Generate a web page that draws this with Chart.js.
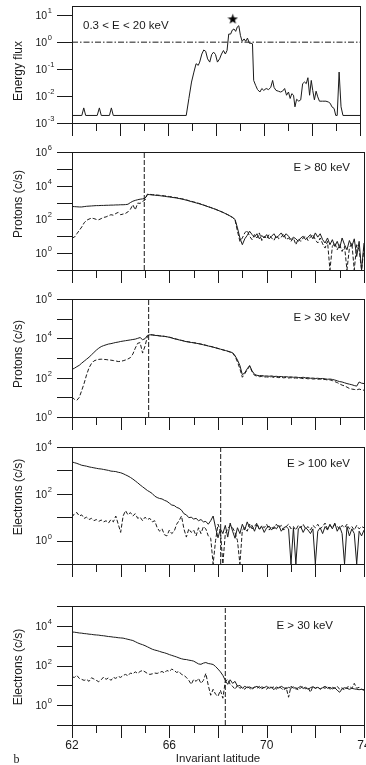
<!DOCTYPE html>
<html>
<head>
<meta charset="utf-8">
<script src="https://cdn.jsdelivr.net/npm/chart.js@4.4.1/dist/chart.umd.min.js"></script>
<style>
  html, body { margin: 0; padding: 0; background: #fff; }
  #wrap { position: relative; width: 366px; height: 765px; overflow: hidden; }
  #wrap canvas { position: absolute; left: 0; }
</style>
</head>
<body>
<div id="wrap">
  <canvas id="p1" width="366" height="139" style="top:0px"></canvas>
  <canvas id="p2" width="366" height="144" style="top:142px"></canvas>
  <canvas id="p3" width="366" height="144" style="top:289px"></canvas>
  <canvas id="p4" width="366" height="143" style="top:437px"></canvas>
  <canvas id="p5" width="366" height="169" style="top:596px"></canvas>
</div>
<script>

// ── panel 1: energy flux, 0.3 < E < 20 keV
const fluxLat = [62.00, 62.41, 62.49, 62.57, 63.05, 63.14, 63.22, 63.56, 63.64, 63.72,
  66.76, 66.87, 66.98, 67.08, 67.17, 67.26, 67.32, 67.41, 67.49, 67.57,
  67.65, 67.74, 67.82, 67.90, 67.98, 68.06, 68.15, 68.23, 68.31, 68.39,
  68.46, 68.53, 68.61, 68.68, 68.75, 68.82, 68.89, 68.95, 69.02, 69.09,
  69.17, 69.24, 69.31, 69.39, 69.46, 69.52, 69.57, 69.65, 69.73, 69.83,
  69.91, 69.99, 70.09, 70.19, 70.28, 70.36, 70.42, 70.50, 70.60, 70.69,
  70.77, 70.86, 70.94, 71.02, 71.09, 71.16, 71.23, 71.29, 71.36, 71.45,
  71.53, 71.61, 71.69, 71.76, 71.83, 71.90, 71.97, 72.03, 72.10, 72.17,
  72.24, 72.31, 72.44, 72.58, 72.68, 72.76, 72.83, 72.92, 72.99, 73.05,
  73.13, 73.21, 73.29, 74.00];
const fluxLog = [-2.72, -2.72, -2.44, -2.72, -2.72, -2.44, -2.72, -2.72, -2.44, -2.72,
  -2.72, -2.09, -1.48, -1.11, -0.80, -0.86, -0.74, -0.44, -0.29, -0.34,
  -0.62, -0.74, -0.46, -0.37, -0.46, -0.74, -0.62, -0.44, -0.31, -0.44,
  -0.31, 0.30, 0.30, 0.45, 0.49, 0.40, 0.57, 0.61, 0.24, 0.03,
  0.12, 0.03, 0.15, -0.04, -0.04, -0.06, -1.42, -1.60, -1.76, -1.85,
  -1.72, -1.79, -1.72, -1.76, -1.68, -1.42, -1.68, -1.79, -1.82, -1.85,
  -1.82, -1.72, -1.97, -1.85, -2.09, -1.91, -1.97, -2.40, -2.12, -2.19,
  -2.14, -1.54, -1.48, -1.54, -1.32, -1.97, -1.42, -1.79, -2.14, -1.82,
  -2.03, -2.19, -2.19, -2.19, -2.22, -2.27, -2.40, -2.46, -2.72, -2.72,
  -1.11, -2.40, -2.72, -2.72];
const starLat = [68.7];
const starLog = [0.87];
const refLevelLog = 0;

// ── panels 2-5 share one latitude grid
const lat = [62.0, 62.1, 62.2, 62.3, 62.4, 62.5, 62.6, 62.7, 62.8, 62.9,
  63.0, 63.1, 63.2, 63.3, 63.4, 63.5, 63.6, 63.7, 63.8, 63.9,
  64.0, 64.1, 64.2, 64.3, 64.4, 64.5, 64.6, 64.7, 64.8, 64.9,
  65.0, 65.1, 65.2, 65.3, 65.4, 65.5, 65.6, 65.7, 65.8, 65.9,
  66.0, 66.1, 66.2, 66.3, 66.4, 66.5, 66.6, 66.7, 66.8, 66.9,
  67.0, 67.1, 67.2, 67.3, 67.4, 67.5, 67.6, 67.7, 67.8, 67.9,
  68.0, 68.1, 68.2, 68.3, 68.4, 68.5, 68.6, 68.7, 68.8, 68.9,
  69.0, 69.1, 69.2, 69.3, 69.4, 69.5, 69.6, 69.7, 69.8, 69.9,
  70.0, 70.1, 70.2, 70.3, 70.4, 70.5, 70.6, 70.7, 70.8, 70.9,
  71.0, 71.1, 71.2, 71.3, 71.4, 71.5, 71.6, 71.7, 71.8, 71.9,
  72.0, 72.1, 72.2, 72.3, 72.4, 72.5, 72.6, 72.7, 72.8, 72.9,
  73.0, 73.1, 73.2, 73.3, 73.4, 73.5, 73.6, 73.7, 73.8, 73.9,
  74.0];

// protons E > 80 keV
const p80Solid = [2.77, 2.76, 2.75, 2.74, 2.74, 2.76, 2.78, 2.79, 2.80, 2.81,
  2.82, 2.82, 2.83, 2.83, 2.84, 2.84, 2.85, 2.85, 2.86, 2.86,
  2.87, 2.87, 2.88, 2.90, 3.00, 3.08, 3.13, 3.17, 3.20, 3.22,
  3.25, 3.48, 3.47, 3.45, 3.44, 3.42, 3.41, 3.39, 3.37, 3.35,
  3.33, 3.31, 3.29, 3.27, 3.24, 3.21, 3.18, 3.14, 3.10, 3.06,
  3.02, 2.98, 2.94, 2.90, 2.85, 2.80, 2.75, 2.70, 2.65, 2.60,
  2.54, 2.48, 2.42, 2.35, 2.28, 2.20, 2.12, 2.00, 1.50, 0.90,
  0.50, 0.85, 1.05, 1.30, 1.10, 0.95, 1.15, 0.85, 1.05, 0.90,
  1.10, 0.85, 1.00, 1.15, 0.90, 1.05, 1.20, 0.95, 1.15, 1.00,
  0.80, 0.95, 0.85, 0.70, 0.90, 1.00, 0.80, 0.95, 1.10, 0.85,
  1.20, 0.95, 1.15, 0.80, 0.60, 0.90, 0.50, 0.80, 0.40, 0.70,
  0.30, 0.90, 0.50, 0.20, 0.75, 0.40, 0.85, -0.20, 0.70, -1.00,
  0.60];
const p80Dashed = [0.90, 0.95, 1.15, 1.35, 1.55, 1.80, 1.95, 2.02, 2.08, 2.05,
  2.00, 1.98, 2.05, 2.12, 2.15, 2.22, 2.28, 2.25, 2.35, 2.42,
  2.28, 2.32, 2.36, 2.45, 2.60, 2.87, 2.57, 2.97, 2.95, 3.07,
  3.15, 3.50, 3.49, 3.47, 3.46, 3.45, 3.43, 3.42, 3.40, 3.38,
  3.36, 3.34, 3.31, 3.29, 3.26, 3.23, 3.20, 3.16, 3.12, 3.08,
  3.04, 3.00, 2.96, 2.91, 2.86, 2.81, 2.76, 2.71, 2.66, 2.60,
  2.54, 2.48, 2.42, 2.35, 2.28, 2.20, 2.11, 1.97, 1.30, 0.70,
  0.90, 1.20, 1.35, 1.00, 0.80, 1.10, 0.90, 1.20, 0.75, 1.00,
  0.85, 1.10, 0.90, 0.75, 1.05, 0.85, 0.95, 1.15, 0.80, 0.90,
  0.70, 0.90, 0.50, 0.85, 0.70, 0.90, 1.00, 0.75, 0.95, 1.10,
  0.80, 0.60, 0.90, 0.55, 0.30, 0.70, -1.00, 0.40, 0.60, 0.20,
  0.50, 0.10, 0.40, -1.00, 0.30, 0.60, -1.00, 0.50, 0.20, -1.00,
  0.30];

// protons E > 30 keV
const p30Solid = [2.42, 2.48, 2.56, 2.63, 2.74, 2.84, 2.94, 3.04, 3.16, 3.28,
  3.40, 3.50, 3.58, 3.63, 3.67, 3.71, 3.73, 3.76, 3.79, 3.81,
  3.84, 3.86, 3.88, 3.90, 3.92, 3.94, 3.96, 4.00, 4.04, 3.93,
  3.98, 4.15, 4.18, 4.17, 4.15, 4.14, 4.12, 4.11, 4.10, 4.08,
  4.05, 4.02, 3.98, 3.95, 3.92, 3.89, 3.86, 3.83, 3.81, 3.79,
  3.77, 3.75, 3.73, 3.70, 3.67, 3.64, 3.61, 3.58, 3.55, 3.52,
  3.48, 3.45, 3.41, 3.38, 3.35, 3.31, 3.27, 3.12, 2.90, 2.62,
  2.15, 2.25, 2.45, 2.62, 2.35, 2.17, 2.12, 2.10, 2.11, 2.08,
  2.09, 2.07, 2.09, 2.06, 2.07, 2.05, 2.06, 2.04, 2.05, 2.03,
  2.04, 2.02, 2.03, 2.01, 2.00, 2.02, 1.99, 2.00, 1.97, 1.98,
  1.96, 1.97, 1.95, 1.96, 1.94, 1.92, 1.93, 1.91, 1.88, 1.84,
  1.80, 1.78, 1.74, 1.70, 1.67, 1.64, 1.60, 1.57, 1.78, 1.72,
  1.70];
const p30Dashed = [1.02, 0.90, 0.85, 1.00, 1.35, 1.72, 2.15, 2.50, 2.72, 2.85,
  2.90, 2.93, 2.94, 2.93, 2.92, 2.90, 2.89, 2.87, 2.85, 2.82,
  2.83, 2.86, 2.90, 2.95, 3.02, 3.20, 3.50, 3.75, 3.78, 3.25,
  3.60, 4.10, 4.19, 4.18, 4.16, 4.15, 4.13, 4.12, 4.10, 4.08,
  4.06, 4.03, 3.99, 3.96, 3.93, 3.90, 3.87, 3.84, 3.82, 3.80,
  3.78, 3.76, 3.73, 3.71, 3.68, 3.65, 3.62, 3.59, 3.56, 3.52,
  3.49, 3.45, 3.42, 3.38, 3.34, 3.30, 3.25, 3.08, 2.80, 2.45,
  2.02, 2.20, 2.40, 2.58, 2.30, 2.12, 2.08, 2.05, 2.06, 2.03,
  2.04, 2.02, 2.05, 2.01, 2.03, 2.00, 2.02, 1.99, 2.01, 1.98,
  2.00, 1.97, 1.99, 1.96, 1.98, 1.95, 1.97, 1.94, 1.96, 1.93,
  1.94, 1.92, 1.93, 1.90, 1.91, 1.88, 1.89, 1.85, 1.80, 1.75,
  1.68, 1.62, 1.58, 1.52, 1.45, 1.42, 1.40, 1.38, 1.42, 1.38,
  1.36];

// electrons E > 100 keV
const e100Solid = [3.36, 3.33, 3.30, 3.26, 3.22, 3.20, 3.18, 3.15, 3.13, 3.11,
  3.09, 3.07, 3.06, 3.04, 3.02, 3.00, 2.97, 2.96, 2.95, 2.92,
  2.90, 2.86, 2.81, 2.76, 2.70, 2.63, 2.55, 2.47, 2.38, 2.30,
  2.22, 2.14, 2.08, 2.01, 1.90, 1.84, 1.80, 1.78, 1.72, 1.68,
  1.60, 1.52, 1.50, 1.42, 1.38, 1.30, 1.15, 1.10, 0.98, 1.00,
  0.92, 0.95, 0.85, 0.90, 0.80, 0.82, 0.70, 0.85, 1.05, 0.55,
  0.12, 0.50, 0.30, 0.65, 0.15, 0.75, 0.40, 0.10, 0.55, 0.30,
  0.70, 0.45, 0.80, 0.55, 0.65, 0.40, 0.70, 0.50, 0.60, 0.35,
  0.55, 0.62, 0.45, 0.60, 0.50, 0.65, 0.40, 0.55, 0.60, 0.50,
  -1.00, 0.55, -1.00, 0.50, 0.60, 0.35, 0.55, 0.45, 0.30, 0.50,
  -1.00, 0.40, 0.55, 0.30, 0.60, 0.45, 0.70, 0.50, 0.75, 0.40,
  0.60, 0.30, -1.00, 0.60, 0.20, 0.50, 0.30, -1.00, 0.40, 0.20,
  0.45];
const e100Dashed = [1.00, 1.15, 1.20, 1.05, 1.10, 0.95, 1.00, 0.90, 0.95, 0.85,
  0.90, 0.82, 0.88, 0.80, 0.85, 0.75, 0.90, 0.80, 1.05, 0.70,
  0.35, 1.05, 1.28, 1.10, 1.20, 1.05, 1.15, 0.95, 1.00, 0.85,
  1.00, 0.90, 0.95, 0.80, 0.85, 0.55, 0.40, 0.50, 0.25, 0.20,
  0.45, 0.30, 0.40, 0.70, 0.85, 1.05, 0.50, 0.15, 0.50, 0.35,
  0.45, 0.20, 0.55, 0.30, 0.60, 0.50, 0.20, 0.10, -1.00, 0.00,
  0.70, 0.40, -1.00, 0.30, 0.50, 0.65, 0.55, 0.35, 0.00, -1.00,
  0.45, 0.55, 0.40, 0.70, 0.50, 0.60, 0.75, 0.45, 0.65, 0.55,
  0.70, 0.45, 0.60, 0.50, 0.70, 0.55, 0.65, 0.45, 0.60, 0.70,
  0.50, 0.60, 0.45, 0.65, 0.55, 0.70, 0.50, 0.60, 0.45, 0.65,
  0.55, 0.70, 0.50, 0.60, 0.75, 0.50, 0.65, 0.55, 0.70, 0.60,
  0.50, 0.65, 0.55, 0.70, 0.50, 0.60, 0.45, 0.65, 0.50, 0.60,
  0.55];

// electrons E > 30 keV
const e30Solid = [3.69, 3.68, 3.66, 3.64, 3.63, 3.61, 3.60, 3.58, 3.57, 3.55,
  3.54, 3.53, 3.51, 3.50, 3.48, 3.46, 3.45, 3.43, 3.42, 3.40,
  3.39, 3.38, 3.35, 3.32, 3.29, 3.26, 3.20, 3.14, 3.09, 3.05,
  3.00, 2.94, 2.88, 2.82, 2.78, 2.75, 2.71, 2.67, 2.64, 2.60,
  2.55, 2.51, 2.47, 2.43, 2.38, 2.34, 2.31, 2.30, 2.27, 2.25,
  2.22, 2.15, 2.08, 2.06, 2.12, 2.15, 2.10, 2.08, 2.05, 1.95,
  1.82, 1.68, 1.50, 1.25, 1.05, 1.28, 1.10, 1.20, 0.95, 1.00,
  0.85, 0.95, 0.88, 0.92, 0.85, 0.90, 0.95, 0.86, 0.92, 0.88,
  0.95, 0.85, 0.90, 0.78, 0.92, 0.86, 0.95, 0.88, 0.82, 0.90,
  0.85, 0.93, 0.80, 0.88, 0.95, 0.84, 0.90, 0.80, 0.88, 0.93,
  0.85, 0.90, 0.82, 0.88, 0.95, 0.85, 0.90, 0.82, 0.88, 0.75,
  0.65, 0.82, 0.88, 0.85, 0.80, 0.85, 0.82, 0.80, 0.78, 0.80,
  0.78];
const e30Dashed = [1.42, 1.40, 1.50, 1.35, 1.30, 1.25, 1.30, 1.20, 1.38, 1.32,
  1.25, 1.18, 1.28, 1.42, 1.30, 1.38, 1.25, 1.40, 1.35, 1.45,
  1.40, 1.50, 1.55, 1.48, 1.62, 1.58, 1.68, 1.60, 1.70, 1.75,
  1.68, 1.60, 1.55, 1.58, 1.62, 1.60, 1.65, 1.70, 1.62, 1.75,
  1.70, 1.82, 1.75, 1.65, 1.70, 1.55, 1.50, 1.40, 1.25, 1.05,
  1.30, 1.20, 1.35, 1.10, 1.25, 1.60, 1.00, 0.50, 0.80, 0.55,
  0.45, 0.75, 0.35, 1.20, 1.30, 1.05, 0.95, 0.80, 1.00, 0.85,
  0.92, 0.80, 0.95, 0.85, 0.78, 0.92, 0.85, 0.95, 0.82, 0.90,
  0.80, 0.95, 0.88, 0.92, 0.80, 0.95, 0.85, 0.75, 0.90, 0.40,
  0.95, 0.85, 0.90, 0.75, 0.88, 0.95, 0.82, 0.90, 0.65, 0.95,
  0.85, 0.92, 0.80, 0.90, 0.85, 0.95, 0.80, 0.90, 0.85, 0.95,
  0.80, 0.88, 0.75, 0.90, 0.95, 0.85, 1.10, 0.85, 0.90, 0.80,
  0.75];

// boundary latitudes (vertical dashed lines)
const boundaryLat = { p2: 64.97, p3: 65.15, p4: 68.11, p5: 68.30 };

// axis ticks and labels
const xTicks = [62, 63, 64, 65, 66, 67, 68, 69, 70, 71, 72, 73, 74];
const xLabels = [62, 66, 70, 74];

const INK = '#1a1a1a';
const SANS = '"Liberation Sans", Arial, Helvetica, sans-serif';

// a filled five-point star used as the point style of the marker
function starImage(size) {
  const c = document.createElement('canvas');
  c.width = c.height = size;
  const g = c.getContext('2d');
  const r = size / 2, ri = r * 0.4;
  g.beginPath();
  for (let k = 0; k < 10; k++) {
    const rr = k % 2 ? ri : r;
    const ang = -Math.PI / 2 + k * Math.PI / 5;
    g.lineTo(r + rr * Math.cos(ang), r + 0.6 + rr * Math.sin(ang));
  }
  g.closePath();
  g.fillStyle = '#000';
  g.fill();
  return c;
}

function pts(xs, ys) { return xs.map((x, i) => ({ x, y: ys[i] })); }

function line(xs, ys, dashed) {
  return {
    data: pts(xs, ys),
    borderColor: INK,
    borderWidth: 1,
    borderDash: dashed ? [4, 2] : [],
    pointRadius: 0,
    fill: false
  };
}

function vline(xv, lo, hi) {
  return {
    data: [{ x: xv, y: lo }, { x: xv, y: hi }],
    borderColor: INK, borderWidth: 1, borderDash: [5, 2], pointRadius: 0
  };
}

// frame, ticks, labels, titles
const axesPlugin = {
  id: 'axes',
  afterDraw(chart, args, o) {
    const { ctx, chartArea: a, scales: { x, y } } = chart;
    ctx.save();
    ctx.strokeStyle = INK;
    ctx.fillStyle = INK;
    ctx.lineWidth = 1;
    ctx.strokeRect(a.left + 0.5, a.top + 0.5, a.right - a.left, a.bottom - a.top);

    ctx.beginPath();
    for (const e of o.yTicks) {
      const py = Math.round(y.getPixelForValue(e)) + 0.5;
      ctx.moveTo(a.left - 15, py);
      ctx.lineTo(a.left, py);
    }
    for (const v of xTicks) {
      const px = Math.round(x.getPixelForValue(v)) + 0.5;
      ctx.moveTo(px, a.bottom);
      ctx.lineTo(px, a.bottom + (v % 2 === 0 ? 13 : 8));
    }
    ctx.stroke();

    ctx.textBaseline = 'middle';
    ctx.textAlign = 'left';
    for (const e of o.yLabels) {
      const py = y.getPixelForValue(e);
      ctx.font = '10.5px ' + SANS;
      ctx.fillText('10', 35.5, py + 1);
      const w = ctx.measureText('10').width;
      ctx.font = '7.5px ' + SANS;
      ctx.fillText(String(e), 36 + w, py - 4);
    }

    // y title
    ctx.save();
    ctx.translate(19, a.top + o.yTitleDy);
    ctx.rotate(-Math.PI / 2);
    ctx.textAlign = 'center';
    ctx.font = '12px ' + SANS;
    ctx.fillText(o.yTitle, 0, 0);
    ctx.restore();

    // energy note
    ctx.font = '11.5px ' + SANS;
    ctx.textAlign = o.note.align;
    ctx.fillText(o.note.text, o.note.x, a.top + o.note.dy);

    if (o.xTitle) {
      ctx.textAlign = 'center';
      ctx.font = '12px ' + SANS;
      for (const v of xLabels) {
        ctx.fillText(String(v), x.getPixelForValue(v), a.bottom + 21);
      }
      ctx.font = '11.5px ' + SANS;
      ctx.fillText(o.xTitle, (a.left + a.right) / 2, a.bottom + 34);
      ctx.font = '12px "Liberation Serif", "DejaVu Serif", serif';
      ctx.fillText('b', 16.5, a.bottom + 35);
    }
    ctx.restore();
  }
};

function panel(id, datasets, yMin, yMax, padTop, padBottom, opts) {
  return new Chart(document.getElementById(id), {
    type: 'line',
    data: { datasets },
    options: {
      responsive: false,
      animation: false,
      events: [],
      layout: { padding: { left: 72, right: 2, top: padTop, bottom: padBottom } },
      plugins: { legend: { display: false }, tooltip: { enabled: false }, axes: opts },
      scales: {
        x: { type: 'linear', min: 62, max: 74, display: false },
        y: { type: 'linear', min: yMin, max: yMax, display: false }
      }
    },
    plugins: [axesPlugin]
  });
}

// panel 1
panel('p1', [
  {
    data: [{ x: 62, y: refLevelLog }, { x: 74, y: refLevelLog }],
    borderColor: INK, borderWidth: 1, borderDash: [6, 2, 1.5, 2], pointRadius: 0
  },
  line(fluxLat, fluxLog, false),
  {
    data: pts(starLat, starLog), showLine: false,
    pointStyle: starImage(11), pointRadius: 5
  }
], -3, 1.342, 5, 16, {
  yTicks: [1, 0, -1, -2, -3], yLabels: [1, 0, -1, -2, -3],
  yTitle: 'Energy flux', yTitleDy: 65,
  note: { text: '0.3 < E < 20 keV', x: 83, dy: 19.5, align: 'left' }
});

// panel 2
panel('p2', [
  line(lat, p80Solid, false),
  line(lat, p80Dashed, true),
  vline(boundaryLat.p2, -1, 6)
], -1, 6, 10, 16, {
  yTicks: [6, 5, 4, 3, 2, 1, 0, -1], yLabels: [6, 4, 2, 0],
  yTitle: 'Protons (c/s)', yTitleDy: 52,
  note: { text: 'E > 80 keV', x: 350, dy: 16, align: 'right' }
});

// panel 3
panel('p3', [
  line(lat, p30Solid, false),
  line(lat, p30Dashed, true),
  vline(boundaryLat.p3, 0, 6)
], 0, 6, 10, 16, {
  yTicks: [6, 5, 4, 3, 2, 1, 0], yLabels: [6, 4, 2, 0],
  yTitle: 'Protons (c/s)', yTitleDy: 55,
  note: { text: 'E > 30 keV', x: 350, dy: 18.5, align: 'right' }
});

// panel 4
panel('p4', [
  line(lat, e100Solid, false),
  line(lat, e100Dashed, true),
  vline(boundaryLat.p4, -1, 4)
], -1, 4, 10, 16, {
  yTicks: [4, 3, 2, 1, 0, -1], yLabels: [4, 2, 0],
  yTitle: 'Electrons (c/s)', yTitleDy: 50,
  note: { text: 'E > 100 keV', x: 350, dy: 17, align: 'right' }
});

// panel 5
panel('p5', [
  line(lat, e30Solid, false),
  line(lat, e30Dashed, true),
  vline(boundaryLat.p5, -1, 5)
], -1, 5, 10, 40, {
  yTicks: [5, 4, 3, 2, 1, 0, -1], yLabels: [4, 2, 0],
  yTitle: 'Electrons (c/s)', yTitleDy: 61,
  note: { text: 'E > 30 keV', x: 333, dy: 19.5, align: 'right' },
  xTitle: 'Invariant latitude'
});
</script>
</body>
</html>
